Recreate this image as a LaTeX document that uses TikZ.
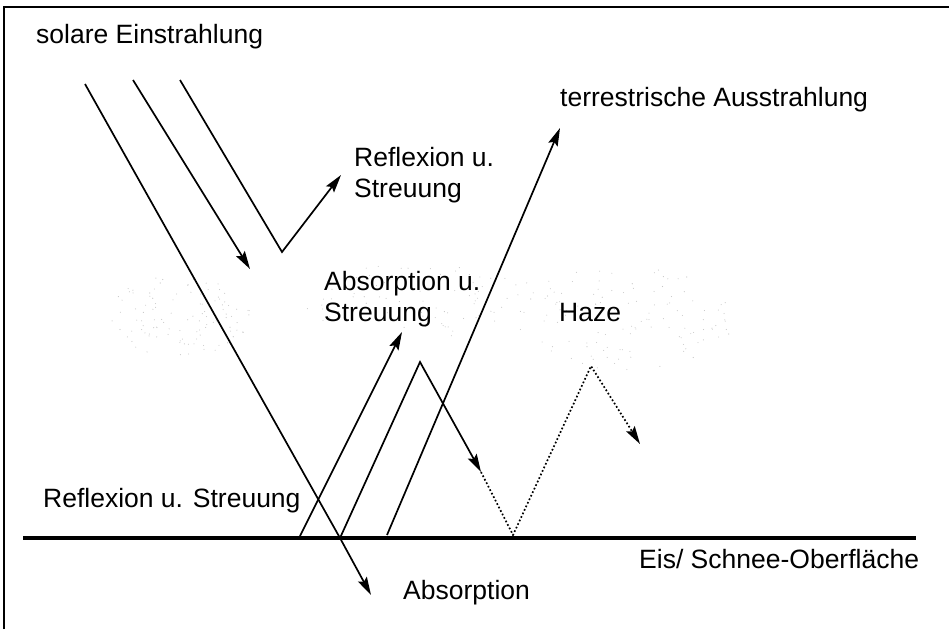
\documentclass[tikz,border=0pt]{standalone}
\usepackage{fontspec}
\setmainfont{Liberation Sans}
\usetikzlibrary{arrows.meta}

\begin{document}
\begin{tikzpicture}[x=1pt,y=-1pt,
  ray/.style={line width=1.7pt,line join=miter},
  tip/.style={-{Stealth[length=18pt,width=10pt,inset=3pt]}},
  lbl/.style={anchor=base west,inner sep=0pt,font=\fontsize{26.5}{31}\selectfont}]
\useasboundingbox (0,0) rectangle (949,629);
% Frame
\draw[line width=1.2pt] (4,629) -- (4,7) -- (949,7);

% Haze (stipple)
\pgfmathsetseed{42}
\foreach \cx/\cy/\rx/\ry/\n in {180/315/70/42/110, 420/300/120/38/80, 625/318/110/52/120}{
  \foreach \i in {1,...,\n}{
    \pgfmathsetmacro\ha{360*rnd}
    \pgfmathsetmacro\hr{sqrt(rnd)}
    \fill[gray!45] ({\cx+\rx*\hr*cos(\ha)},{\cy+\ry*\hr*sin(\ha)}) circle (0.55pt);
  }
}

% Ice / snow surface
\coordinate (gl) at (23,538);
\coordinate (gr) at (916,538);
\draw[line width=4pt] (gl) -- (gr);

% Incoming rays
\coordinate (s1) at (85,84);
\coordinate (hit) at (340,538);
\coordinate (e1) at (371,595);
\draw[ray,tip] (s1) -- (hit) -- (e1);

\coordinate (s2) at (133,80);
\coordinate (e2) at (250,269);
\draw[ray,tip] (s2) -- (e2);

\coordinate (s3) at (180,80);
\coordinate (v3) at (282,252);
\coordinate (e3) at (341,175);
\draw[ray,tip] (s3) -- (v3) -- (e3);

% Rays leaving the surface
\coordinate (u1) at (300,536);
\coordinate (e4) at (402,332);
\draw[ray,tip] (u1) -- (e4);

\coordinate (v5) at (420,362);
\coordinate (e5) at (481,472);
\draw[ray,tip] (hit) -- (v5) -- (e5);

\coordinate (d1) at (513,535);
\coordinate (v6) at (591,366);
\coordinate (e6) at (640,444);
\draw[line width=1.7pt,dash pattern=on 1.7pt off 2.2pt,tip] (e5) -- (d1) -- (v6) -- (e6);

\coordinate (u2) at (387,535);
\coordinate (e7) at (560,128);
\draw[ray,tip] (u2) -- (e7);

% Labels
\node[lbl] (solar) at (36,43) {solare Einstrahlung};
\node[lbl] (terr) at (560,106) {terrestrische Ausstrahlung};
\node[lbl] (refl1) at (354,166) {Reflexion u.};
\node[lbl] (refl2) at (354,197) {Streuung};
\node[lbl] (absst1) at (324,290) {Absorption u.};
\node[lbl] (absst2) at (324,321) {Streuung};
\node[lbl] (haze) at (559,321) {Haze};
\node[lbl] (refl3) at (43,507) {Reflexion u. Streuung};
\node[lbl] (absorp) at (403,599) {Absorption};
\node[lbl] (surf) at (639,568) {Eis/ Schnee-Oberfläche};
\end{tikzpicture}
\end{document}
